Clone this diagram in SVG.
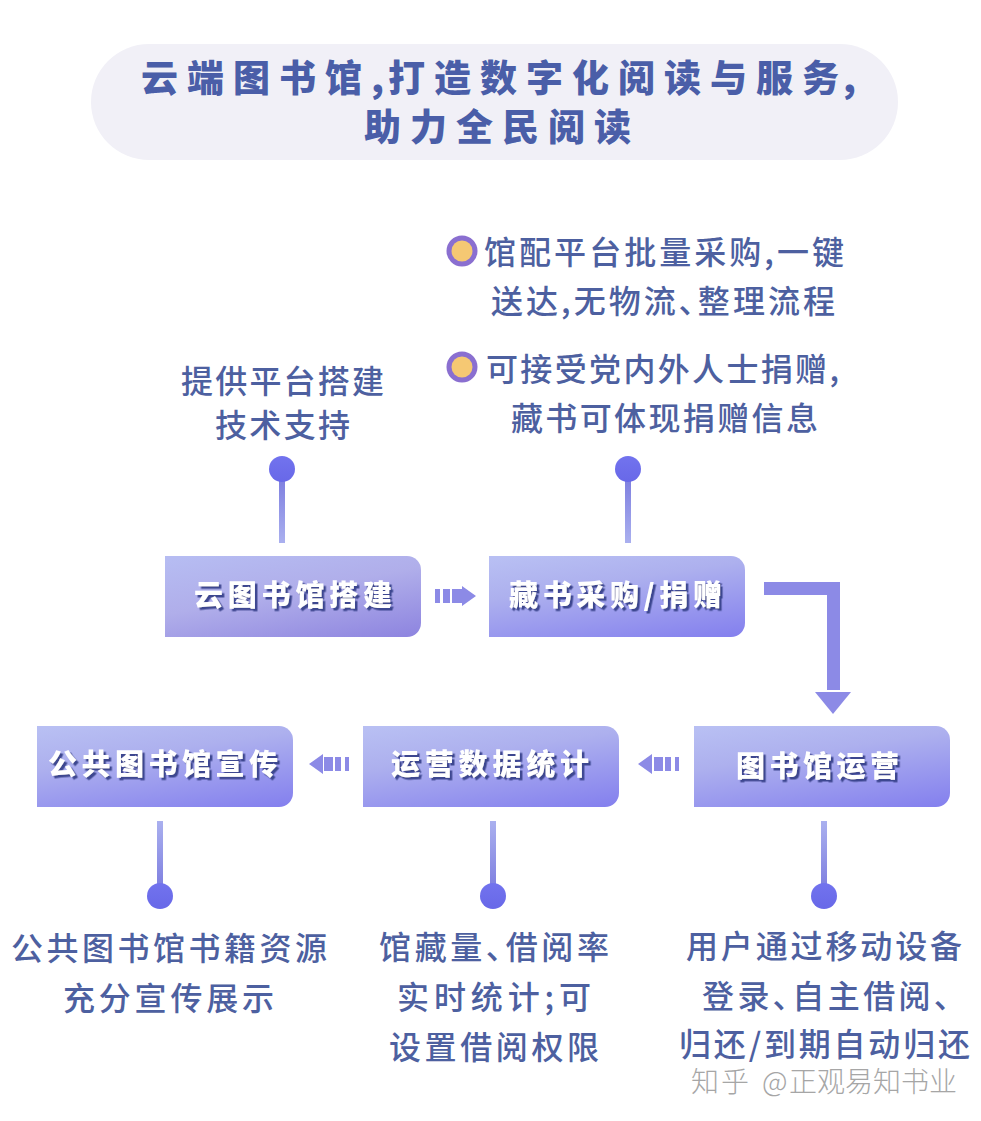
<svg xmlns="http://www.w3.org/2000/svg" width="981" height="1121" viewBox="0 0 981 1121">
<style>
text{font-family:"Noto Sans CJK SC","Liberation Sans",sans-serif;font-feature-settings:"palt"}
.title{font-size:37px;font-weight:900;fill:#4a5ea8;letter-spacing:9px}
.cm{letter-spacing:4px}
.lbl{font-size:32px;font-weight:500;fill:#4d60a0}
.node{font-size:29px;font-weight:900;fill:#fff;filter:url(#sh)}
.box{fill:url(#bg)}
.stem{fill:url(#sg)}
.stem2{fill:url(#sg2)}
.dot{fill:url(#dg)}
.arr{fill:#8c8ae6}
.wm{font-size:28px;font-weight:300;fill:#a6a6a6}
.ring{fill:#8a6fd0}
.core{fill:#f5c873}
</style>
<defs>
<linearGradient id="bg" x1="0.1" y1="0" x2="0.65" y2="1.15"><stop offset="0" stop-color="#b8bff3"/><stop offset="0.35" stop-color="#adb0ee"/><stop offset="1" stop-color="#8480ee"/></linearGradient>
<linearGradient id="bg1" x1="0.1" y1="0" x2="0.75" y2="1.1"><stop offset="0" stop-color="#b6bcf2"/><stop offset="0.45" stop-color="#b0aeea"/><stop offset="1" stop-color="#8f86e0"/></linearGradient>
<linearGradient id="sg" x1="0" y1="1" x2="0" y2="0"><stop offset="0" stop-color="#aab0ef"/><stop offset="1" stop-color="#7f80e0"/></linearGradient>
<linearGradient id="sg2" x1="0" y1="0" x2="0" y2="1"><stop offset="0" stop-color="#aab0ef"/><stop offset="1" stop-color="#7f80e0"/></linearGradient>
<linearGradient id="dg" x1="0" y1="0" x2="0" y2="1"><stop offset="0" stop-color="#7273ee"/><stop offset="1" stop-color="#6868e8"/></linearGradient>
<filter id="sh" x="-10%" y="-20%" width="120%" height="140%"><feDropShadow dx="2.5" dy="2.5" stdDeviation="0.5" flood-color="#3d4690"/></filter>
</defs>
<rect width="981" height="1121" fill="#fff"/>
<g id="title">
<rect x="91" y="44" width="807" height="116" rx="58" fill="#f1f0f7"/>
<text class="title" x="141" y="92">云端图书馆<tspan class="cm">,</tspan>打造数字化阅读与服<tspan class="cm">务,</tspan></text>
<text class="title" x="364" y="141">助力全民阅读</text>
</g>
<g id="connectors">
<rect class="stem" x="279" y="480" width="6" height="63"/>
<rect class="stem" x="625" y="480" width="6" height="63"/>
<rect class="stem2" x="157" y="821" width="6" height="66"/>
<rect class="stem2" x="490" y="821" width="6" height="66"/>
<rect class="stem2" x="821" y="821" width="6" height="66"/>
<circle class="dot" cx="282" cy="469" r="13"/>
<circle class="dot" cx="628" cy="469" r="13"/>
<circle class="dot" cx="160" cy="896" r="13"/>
<circle class="dot" cx="493" cy="896" r="13"/>
<circle class="dot" cx="824" cy="896" r="13"/>
<path class="arr" d="M435 589h5v14h-5zM443 589h7v14h-7zM452 589h10v14h-10zM462 586l14 10-14 10z"/>
<path class="arr" d="M764 582H840V690H827V595H764z"/>
<path class="arr" d="M815 692H851L833 714z"/>
<path class="arr" d="M679 757h-4v14h4zM671 757h-6v14h6zM663 757h-9v14h9zM652 754l-14 10 14 10z"/>
<path class="arr" d="M349 757h-4v14h4zM341 757h-6v14h6zM333 757h-9v14h9zM323 754l-14 10 14 10z"/>
</g>
<g id="n1"><path d="M165 556H407a14 14 0 0 1 14 14V623a14 14 0 0 1-14 14H165z" fill="url(#bg1)"/><text class="node" x="194" y="606" textLength="198">云图书馆搭建</text></g>
<g id="n2"><path class="box" d="M489 556H731a14 14 0 0 1 14 14V623a14 14 0 0 1-14 14H489z"/><text class="node" x="509" y="606" textLength="213">藏书采购/捐赠</text></g>
<g id="n3"><path class="box" d="M694 726H936a14 14 0 0 1 14 14V793a14 14 0 0 1-14 14H694z"/><text class="node" x="736" y="777" textLength="163">图书馆运营</text></g>
<g id="n4"><path class="box" d="M363 726H605a14 14 0 0 1 14 14V793a14 14 0 0 1-14 14H363z"/><text class="node" x="391" y="775" textLength="198">运营数据统计</text></g>
<g id="n5"><path class="box" d="M37 726H279a14 14 0 0 1 14 14V793a14 14 0 0 1-14 14H37z"/><text class="node" x="48" y="775" textLength="230">公共图书馆宣传</text></g>
<g id="t1"><text class="lbl" x="181" y="393" textLength="203">提供平台搭建</text><text class="lbl" x="215" y="437" textLength="135">技术支持</text></g>
<g id="t2">
<circle class="ring" cx="462" cy="251" r="15.5"/><circle class="core" cx="462" cy="251" r="10.5"/>
<text class="lbl" x="484" y="264" textLength="360">馆配平台批量采购,一键</text>
<text class="lbl" x="491" y="313" textLength="344">送达,无物流、整理流程</text>
<circle class="ring" cx="462" cy="367" r="15.5"/><circle class="core" cx="462" cy="367" r="10.5"/>
<text class="lbl" x="486" y="381" textLength="353">可接受党内外人士捐赠,</text>
<text class="lbl" x="511" y="430" textLength="307">藏书可体现捐赠信息</text>
</g>
<g id="t3"><text class="lbl" x="11" y="960" textLength="316">公共图书馆书籍资源</text><text class="lbl" x="63" y="1010" textLength="211">充分宣传展示</text></g>
<g id="t4"><text class="lbl" x="379" y="959" textLength="230">馆藏量、借阅率</text><text class="lbl" x="397" y="1009" textLength="194">实时统计;可</text><text class="lbl" x="389" y="1059" textLength="210">设置借阅权限</text></g>
<g id="t5"><text class="lbl" x="686" y="958" textLength="276">用户通过移动设备</text><text class="lbl" x="702" y="1008" textLength="248">登录、自主借阅、</text><text class="lbl" x="679" y="1056" textLength="291">归还/到期自动归还</text></g>
<text class="wm" y="1092"><tspan x="691" letter-spacing="2">知乎 </tspan><tspan x="762">@</tspan><tspan x="789">正观易知书业</tspan></text>
</svg>
